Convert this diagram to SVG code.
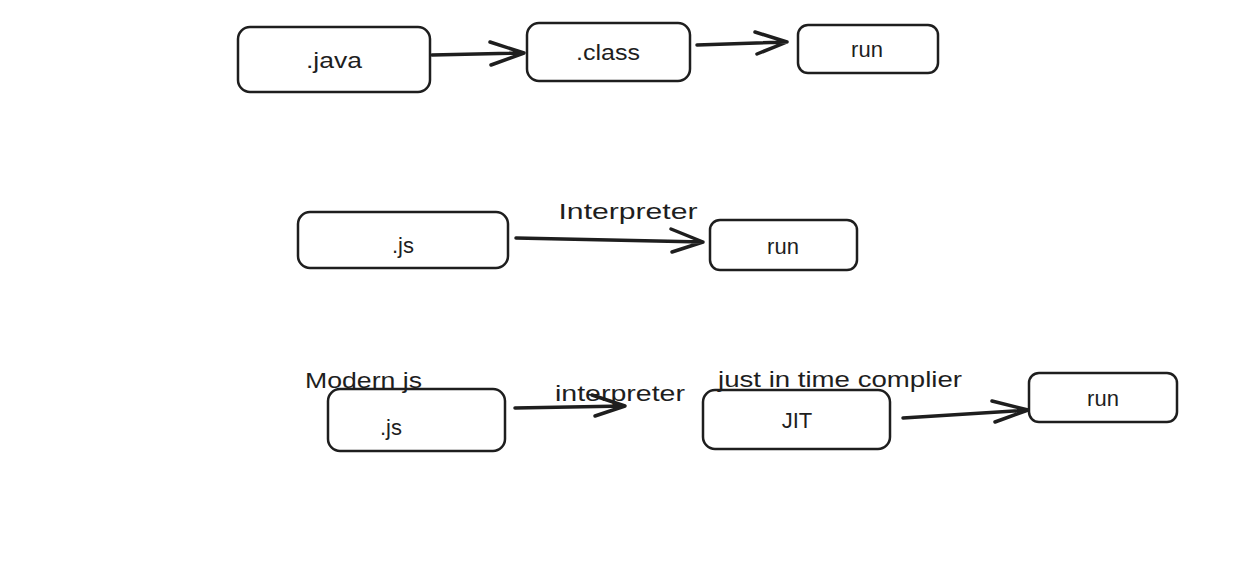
<svg xmlns="http://www.w3.org/2000/svg" width="1247" height="565" viewBox="0 0 1247 565">
<defs>
<style>
.box{fill:none;stroke:#1e1e1e;stroke-width:2.5}
.line{fill:none;stroke:#1e1e1e;stroke-width:3.5;stroke-linecap:round;stroke-linejoin:round}
text{font-family:"Liberation Sans",Arial,sans-serif;font-size:22px;fill:#1e1e1e}
.c{text-anchor:middle;dominant-baseline:central}
</style>
</defs>
<rect width="1247" height="565" fill="#ffffff"/>
<g id="java"><rect class="box" x="238" y="27" width="192" height="65" rx="12"/><text class="c" x="334" y="60" textLength="56" lengthAdjust="spacingAndGlyphs">.java</text></g>
<g id="class"><rect class="box" x="527" y="23" width="163" height="58" rx="12"/><text class="c" x="608" y="52" textLength="64" lengthAdjust="spacingAndGlyphs">.class</text></g>
<g id="run1"><rect class="box" x="798" y="25" width="140" height="48" rx="10"/><text class="c" x="867" y="49">run</text></g>
<g id="js1"><rect class="box" x="298" y="212" width="210" height="56" rx="12"/><text class="c" x="403" y="245">.js</text></g>
<g id="run2"><rect class="box" x="710" y="220" width="147" height="50" rx="10"/><text class="c" x="783" y="246">run</text></g>
<g id="js2"><rect class="box" x="328" y="389" width="177" height="62" rx="12"/><text class="c" x="391" y="427">.js</text></g>
<g id="jit"><rect class="box" x="703" y="390" width="187" height="59" rx="12"/><text class="c" x="797" y="420">JIT</text></g>
<g id="run3"><rect class="box" x="1029" y="373" width="148" height="49" rx="10"/><text class="c" x="1103" y="398">run</text></g>
<g id="labels">
<text class="c" x="628" y="211" textLength="139" lengthAdjust="spacingAndGlyphs">Interpreter</text>
<text x="305" y="388" textLength="117" lengthAdjust="spacingAndGlyphs">Modern js</text>
<text class="c" x="620" y="393" textLength="130" lengthAdjust="spacingAndGlyphs">interpreter</text>
<text class="c" x="840" y="379" textLength="244" lengthAdjust="spacingAndGlyphs">just in time complier</text>
</g>
<g id="connectors">
<path class="line" d="M432 55 L524 53 M490 42 L524 53 L491 65"/>
<path class="line" d="M697 45 L787 42 M755 32 L787 42 L757 54"/>
<path class="line" d="M516 238 L703 242 M671 229 L703 242 L672 252"/>
<path class="line" d="M515 408 L625 406 M592 395 L625 406 L595 416"/>
<path class="line" d="M903 418 L1028 410 M992 401 L1028 410 L995 422"/>
</g>
</svg>
